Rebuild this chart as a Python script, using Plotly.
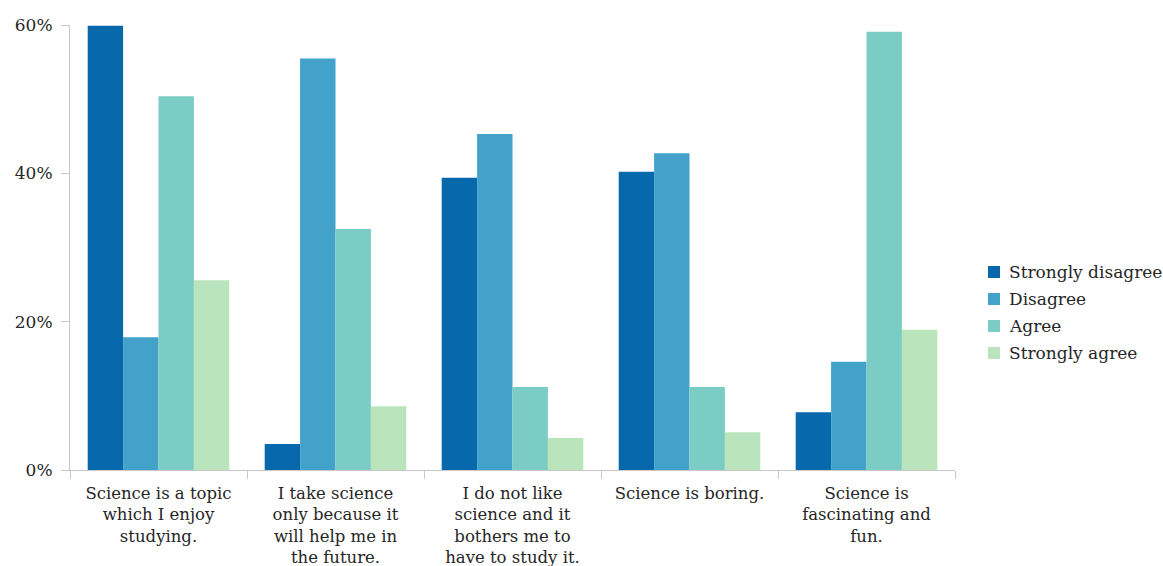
import plotly.graph_objects as go

categories = [
    "Science is a topic<br>which I enjoy<br>studying.",
    "I take science<br>only because it<br>will help me in<br>the future.",
    "I do not like<br>science and it<br>bothers me to<br>have to study it.",
    "Science is boring.",
    "Science is<br>fascinating and<br>fun.",
]
strongly_disagree = [59.9, 3.5, 39.4, 40.2, 7.8]
disagree = [17.9, 55.5, 45.3, 42.7, 14.6]
agree = [50.4, 32.5, 11.2, 11.2, 59.1]
strongly_agree = [25.6, 8.6, 4.3, 5.1, 18.9]

series_names = ["Strongly disagree", "Disagree", "Agree", "Strongly agree"]
series_values = [strongly_disagree, disagree, agree, strongly_agree]
series_colors = ["#0868ac", "#43a2ca", "#7bccc4", "#bae4bc"]

font_family = "DejaVu Serif, serif"
text_color = "#262626"
axis_color = "#c8c8c8"

W, H = 1163, 566
M_L, M_R, M_T, M_B = 70, 208, 25, 96
plot_w = W - M_L - M_R
plot_h = H - M_T - M_B

fig = go.Figure()
for name, vals, color in zip(series_names, series_values, series_colors):
    fig.add_trace(go.Bar(
        x=categories, y=vals, name=name,
        marker=dict(color=color, line=dict(width=0)),
    ))

# legend drawn as swatches + labels to the right of the plot
legend_top_px = 272
legend_step_px = 27
for i, (name, color) in enumerate(zip(series_names, series_colors)):
    cy = legend_top_px + i * legend_step_px
    y_paper = (H - M_B - cy) / plot_h
    half = 6 / plot_h
    x0 = (988 - M_L) / plot_w
    x1 = (1000 - M_L) / plot_w
    fig.add_shape(type="rect", xref="paper", yref="paper",
                  x0=x0, x1=x1, y0=y_paper - half, y1=y_paper + half,
                  fillcolor=color, line=dict(width=0))
    fig.add_annotation(xref="paper", yref="paper",
                       x=(1007 - M_L) / plot_w, y=y_paper,
                       xanchor="left", yanchor="middle", showarrow=False,
                       text=name, font=dict(family=font_family, size=17, color=text_color))

fig.update_layout(
    width=W, height=H,
    margin=dict(l=M_L, r=M_R, t=M_T, b=M_B),
    paper_bgcolor="white", plot_bgcolor="white",
    barmode="group", bargap=0.2, bargroupgap=0,
    font=dict(family=font_family, size=17, color=text_color),
    showlegend=False,
)
fig.update_xaxes(
    showline=True, linecolor=axis_color, linewidth=1,
    ticks="outside", tickson="boundaries", ticklen=8, tickcolor=axis_color,
    showgrid=False, tickangle=0, automargin=False,
    ticklabelstandoff=8,
    tickfont=dict(family=font_family, size=16.5, color=text_color),
)
fig.update_yaxes(
    range=[0, 60], tickvals=[0, 20, 40, 60], ticktext=["0%", "20%", "40%", "60%"],
    showline=True, linecolor=axis_color, linewidth=1,
    ticks="outside", ticklen=8, tickcolor=axis_color,
    showgrid=False, zeroline=False, automargin=False,
    ticklabelstandoff=5,
    tickfont=dict(family=font_family, size=17, color=text_color),
)

fig.write_html("out.html")
